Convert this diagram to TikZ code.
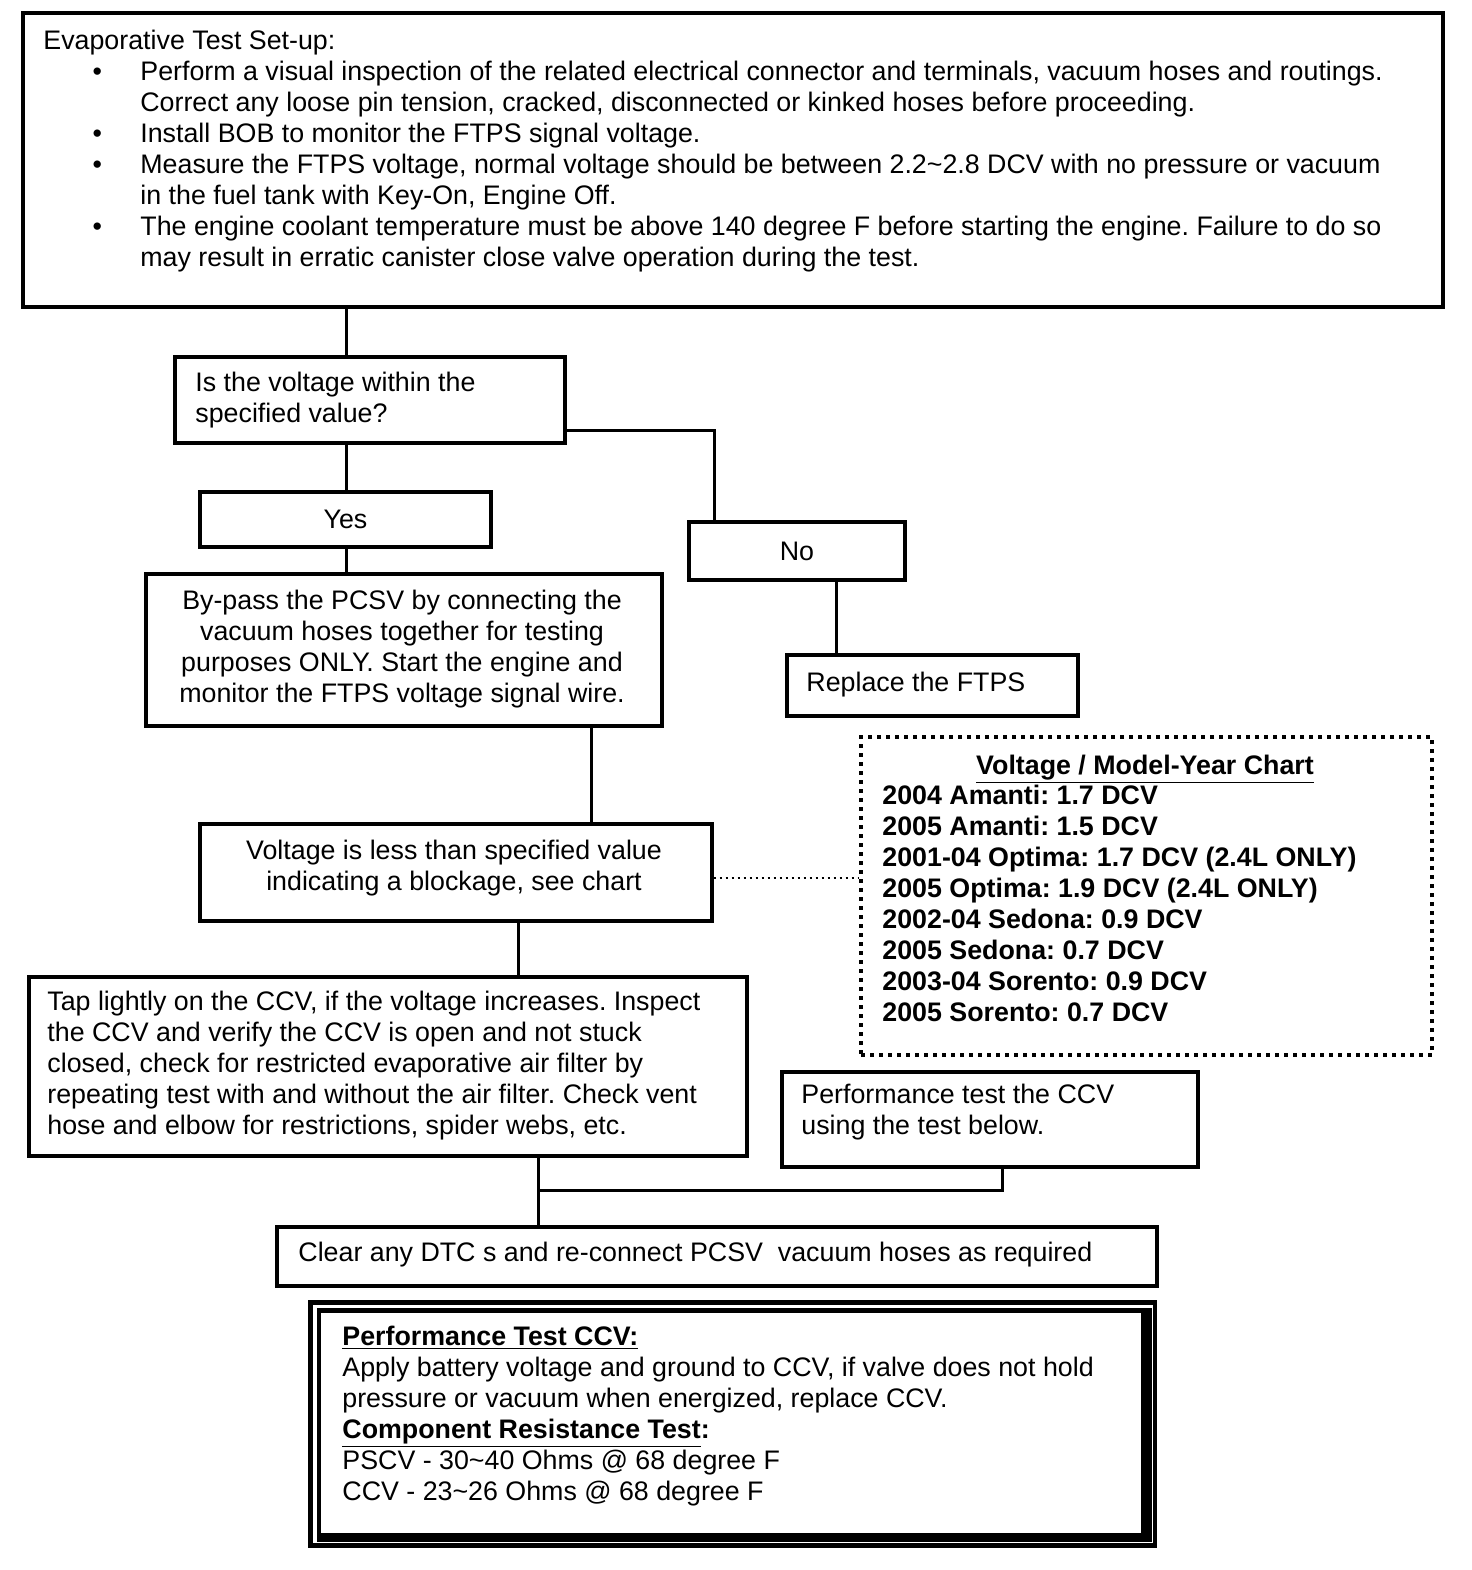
\documentclass[tikz,border=0pt]{standalone}
\usepackage{fontspec}
\setmainfont{Liberation Sans}
\usetikzlibrary{calc}
\frenchspacing
\newcommand{\bul}{\hspace*{27pt}\makebox[0pt]{\textbullet}\hspace*{21.5pt}}
\newcommand{\cont}{\hspace*{48.5pt}}
\begin{document}
\begin{tikzpicture}[x=0.5pt,y=-0.5pt,
  pbox/.style n args={4}{rectangle, inner sep=0pt, at={({(#1+#3)/2},{(#2+#4)/2})},
     minimum width={(#3-#1)*0.5pt}, minimum height={(#4-#2)*0.5pt}},
  boxline/.style={draw=black, line width=1.6pt},
  txt/.style={inner sep=0pt, font=\fontsize{13.4}{15.5}\selectfont, align=left},
  conn/.style={draw=black, line width=1.5pt},
  dotconn/.style={draw=black, line width=1.2pt, dash pattern=on 1.4pt off 1.6pt},
  chartline/.style={draw=black, line width=2pt, dash pattern=on 2pt off 2.5pt}]
\useasboundingbox (0,0) rectangle (1472,1570);
\fill[white] (0,0) rectangle (1472,1570);

% boxes
\node[boxline, pbox={23}{13}{1443}{307}] (topbox) {};
\node[boxline, line width=2pt, pbox={175}{357}{565}{443}] (isq) {};
\node[boxline, pbox={200}{492}{491}{547}, txt, align=center] (yes) {Yes};
\node[boxline, pbox={689}{522}{905}{580}, txt, align=center] (no) {No};
\node[boxline, pbox={146}{574}{662}{726}] (bypass) {};
\node[boxline, pbox={787}{655}{1078}{716}] (repl) {};
\node[chartline, pbox={861}{737}{1432}{1055}] (chart) {};
\node[boxline, pbox={200}{824}{712}{921}] (vless) {};
\node[boxline, pbox={29}{977}{747}{1156}] (tap) {};
\node[boxline, pbox={782}{1072}{1198}{1167}] (perf) {};
\node[boxline, pbox={277}{1227}{1157}{1286}] (clear) {};
% framed bottom box
\fill[black] (308,1300) rectangle (1157,1548);
\fill[white] (313,1305) rectangle (1153,1543);
\fill[black] (316.5,1308) rectangle (1152,1542);
\node[fill=white, pbox={321}{1312.5}{1141}{1533}] (ptest) {};

% texts
\node[txt, anchor=north west] (ttop) at (43,27.3) {\strut Evaporative Test Set-up:\\
\bul Perform a visual inspection of the related electrical connector and terminals, vacuum hoses and routings.\\
\cont Correct any loose pin tension, cracked, disconnected or kinked hoses before proceeding.\\
\bul Install BOB to monitor the FTPS signal voltage.\\
\bul Measure the FTPS voltage, normal voltage should be between 2.2\textasciitilde 2.8 DCV with no pressure or vacuum\\
\cont in the fuel tank with Key-On, Engine Off.\\
\bul The engine coolant temperature must be above 140 degree F before starting the engine. Failure to do so\\
\cont may result in erratic canister close valve operation during the test.};

\node[txt, anchor=north west] (tisq) at (195,369.3) {\strut Is the voltage within the\\specified value?};
\node[txt, anchor=north, align=center] (tbypass) at (402,587.3) {\strut By-pass the PCSV by connecting the\\vacuum hoses together for testing\\purposes ONLY. Start the engine and\\monitor the FTPS voltage signal wire.};
\node[txt, anchor=north west] (trepl) at (806,669.3) {\strut Replace the FTPS};
\node[txt, anchor=north, align=center] (tvless) at (454,837.3) {\strut Voltage is less than specified value\\indicating a blockage, see chart};
\node[txt, anchor=north west] (ttap) at (47,988.3) {\strut Tap lightly on the CCV, if the voltage increases. Inspect\\the CCV and verify the CCV is open and not stuck\\closed, check for restricted evaporative air filter by\\repeating test with and without the air filter. Check vent\\hose and elbow for restrictions, spider webs, etc.};
\node[txt, anchor=north west] (tperf) at (801,1081.3) {\strut Performance test the CCV\\using the test below.};
\node[txt, anchor=north west] (tclear) at (298,1239.3) {\strut Clear any DTC s and re-connect PCSV\ \ vacuum hoses as required};
\node[txt, anchor=north, font=\fontsize{13.4}{15.5}\selectfont\bfseries] (ctitle) at (1145,752.3) {\strut\underline{Voltage / Model-Year Chart}};
\node[txt, anchor=north west, font=\fontsize{13.4}{15.5}\selectfont\bfseries] (clist) at (882,782.3) {\strut 2004 Amanti: 1.7 DCV\\2005 Amanti: 1.5 DCV\\2001-04 Optima: 1.7 DCV (2.4L ONLY)\\2005 Optima: 1.9 DCV (2.4L ONLY)\\2002-04 Sedona: 0.9 DCV\\2005 Sedona: 0.7 DCV\\2003-04 Sorento: 0.9 DCV\\2005 Sorento: 0.7 DCV};
\node[txt, anchor=north west] (tptest) at (342,1323.3) {\strut\textbf{\underline{Performance Test CCV:}}\\Apply battery voltage and ground to CCV, if valve does not hold\\pressure or vacuum when energized, replace CCV.\\\textbf{\underline{Component Resistance Test}:}\\PSCV - 30\textasciitilde 40 Ohms @ 68 degree F\\CCV - 23\textasciitilde 26 Ohms @ 68 degree F};

% connectors
\coordinate (xa) at (346,0);
\coordinate (xb) at (714,0);
\coordinate (xc) at (836,0);
\coordinate (xd) at (591,0);
\coordinate (xe) at (518,0);
\coordinate (xf) at (538,0);
\coordinate (xg) at (1002,0);
\coordinate (yi) at (0,430);
\coordinate (yj) at (0,878);
\coordinate (yh) at (0,1190);
\draw[conn] (topbox.south -| xa) -- (isq.north -| xa);
\draw[conn] (isq.south -| xa) -- (yes.north -| xa);
\draw[conn] (isq.east |- yi) -| (no.north -| xb);
\draw[conn] (yes.south -| xa) -- (bypass.north -| xa);
\draw[conn] (no.south -| xc) -- (repl.north -| xc);
\draw[conn] (bypass.south -| xd) -- (vless.north -| xd);
\draw[dotconn] (vless.east |- yj) -- (chart.west |- yj);
\draw[conn] (vless.south -| xe) -- (tap.north -| xe);
\draw[conn] (tap.south -| xf) -- (clear.north -| xf);
\draw[conn] (perf.south -| xg) |- (yh -| xf);
\end{tikzpicture}
\end{document}
